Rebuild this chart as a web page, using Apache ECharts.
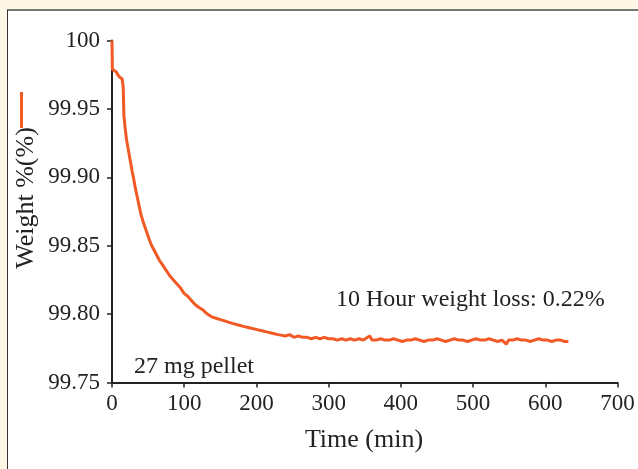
<!DOCTYPE html>
<html><head><meta charset="utf-8">
<script src="https://cdn.jsdelivr.net/npm/echarts@6/dist/echarts.min.js"></script>
<style>
html,body{margin:0;padding:0;background:#fef7e5;width:638px;height:469px;overflow:hidden;}
#frame{position:absolute;left:7px;top:9px;width:640px;height:470px;background:#fff;border-top:2px solid #777;border-left:1px solid #333;}
#c{position:absolute;left:0;top:0;width:638px;height:469px;}
</style></head>
<body><div id="frame"></div><div id="c"></div>
<script>
const times = [0,0.5,3,6,8,11,14,15.5,16.5,18,20,22,24,26,28,30,32,34,36,38,40,44,48,52,55,58,62,66,70,75,80,85,90,95,100,105,110,115,120,126,132,138,144,150,156,162,168,175,182,190,198,206,214,222,230,
240,246,252,258,264,270,276,282,288,294,300,306,312,318,324,330,336,342,348,354,357,360,366,372,378,384,390,396,402,408,414,420,426,432,438,444,450,456,462,468,474,480,486,492,498,504,510,516,522,528,534,540,546,549,555,561,567,573,579,585,591,597,603,609,615,621,627,632];
const weights = [100.000,99.979,99.978,99.977,99.975,99.973,99.972,99.966,99.945,99.937,99.928,99.922,99.916,99.910,99.904,99.899,99.893,99.888,99.883,99.878,99.873,99.866,99.860,99.854,99.850,99.847,99.843,99.839,99.836,99.832,99.828,99.825,99.822,99.819,99.815,99.813,99.810,99.807,99.805,99.803,99.800,99.798,99.797,99.796,99.795,99.794,99.793,99.792,99.791,99.790,99.789,99.788,99.787,99.786,99.785,
99.784,99.785,99.783,99.784,99.783,99.783,99.782,99.783,99.782,99.783,99.782,99.782,99.781,99.782,99.781,99.782,99.781,99.782,99.781,99.783,99.784,99.781,99.781,99.782,99.781,99.781,99.782,99.781,99.780,99.781,99.781,99.782,99.781,99.780,99.781,99.781,99.782,99.781,99.780,99.781,99.782,99.781,99.781,99.780,99.781,99.782,99.781,99.781,99.782,99.781,99.780,99.781,99.778,99.781,99.781,99.782,99.781,99.781,99.780,99.781,99.782,99.781,99.781,99.780,99.781,99.781,99.780,99.780];
const yTickLabels = ['99.75','99.80','99.85','99.90','99.95','100'];
const xTickLabels = ['0','100','200','300','400','500','600','700'];
const seriesName = 'Weight %(%)';
const xTitle = 'Time (min)';
const note1 = '10 Hour weight loss: 0.22%';
const note2 = '27 mg pellet';

const FONT = 'Liberation Serif';
const chart = echarts.init(document.getElementById('c'), null, {renderer:'canvas'});
const data = times.map((t,i)=>[t, weights[i]]);
chart.setOption({
  backgroundColor:'transparent',
  animation:false,
  grid:{left:112,right:20.5,top:40.5,bottom:86.5,containLabel:false},
  legend:{show:true,left:20,top:92,orient:'vertical',icon:'rect',itemWidth:3,itemHeight:36,
    formatter:()=>'',data:[seriesName],selectedMode:false,itemGap:0,padding:0},
  xAxis:{type:'value',min:0,max:700,interval:100,
    axisLine:{show:true,lineStyle:{color:'#222',width:2}},
    axisTick:{show:true,length:5,lineStyle:{color:'#222',width:1.5}},
    splitLine:{show:false},
    axisLabel:{color:'#222',fontFamily:FONT,fontSize:23,margin:10,
      formatter:(v)=>xTickLabels[Math.round(v/100)]}},
  yAxis:{type:'value',min:99.75,max:100,interval:0.05,
    axisLine:{show:true,onZero:false,lineStyle:{color:'#222',width:2}},
    axisTick:{show:true,length:5,lineStyle:{color:'#222',width:1.5}},
    splitLine:{show:false},
    axisLabel:{color:'#222',fontFamily:FONT,fontSize:23,margin:12,
      formatter:(v)=>yTickLabels[Math.round((v-99.75)/0.05)]}},
  series:[{name:seriesName,type:'line',data:data,showSymbol:false,symbol:'none',
    lineStyle:{color:'#f15a24',width:3},itemStyle:{color:'#f15a24'}}],
  graphic:[
    {type:'text',x:364,y:440,style:{text:xTitle,font:'26px "Liberation Serif"',fill:'#222',textAlign:'center',textVerticalAlign:'middle'}},
    {type:'text',x:26,y:198,rotation:Math.PI/2,style:{text:seriesName,font:'26px "Liberation Serif"',fill:'#222',textAlign:'center',textVerticalAlign:'middle'}},
    {type:'text',x:336,y:300,style:{text:note1,font:'24px "Liberation Serif"',fill:'#222',textAlign:'left',textVerticalAlign:'middle'}},
    {type:'text',x:134,y:367,style:{text:note2,font:'24px "Liberation Serif"',fill:'#222',textAlign:'left',textVerticalAlign:'middle'}}
  ]
});
</script></body></html>
